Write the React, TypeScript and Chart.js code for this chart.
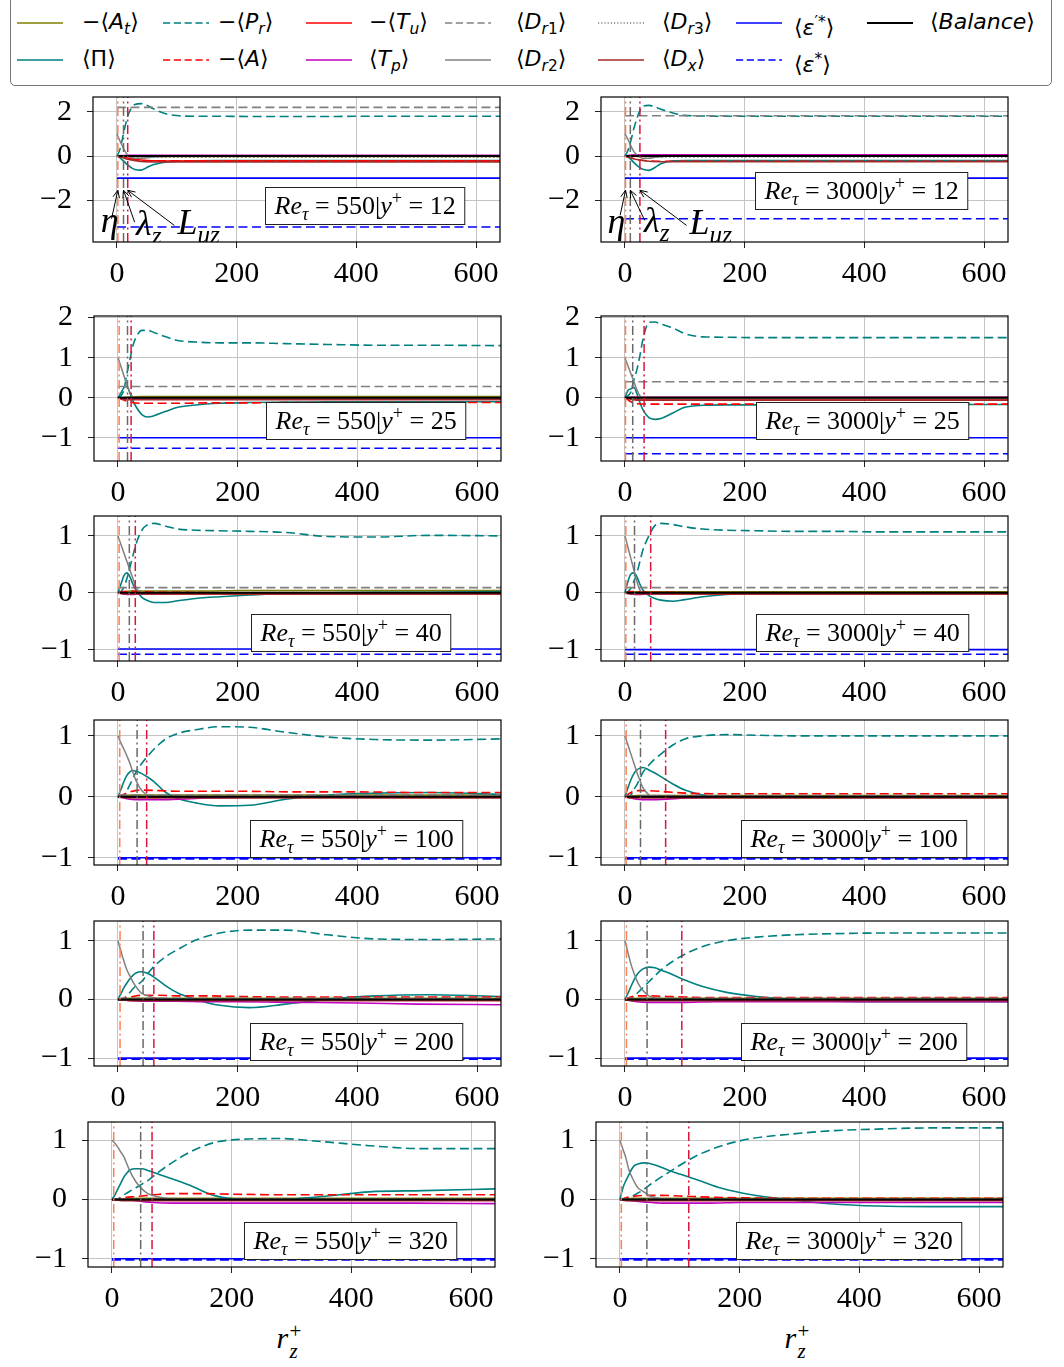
import React, { useEffect, useRef } from "react";
import { Chart, registerables } from "chart.js";
Chart.register(...registerables);

const SERIF = "'Liberation Serif', 'Times New Roman', serif";
const SANS = "'DejaVu Sans', sans-serif";

// ---------------- grids & ticks ----------------
const X = [0, 5, 10, 15, 20, 25, 30, 40, 50, 60, 80, 100, 130, 170, 220, 280, 350, 430, 520, 640];
const XS = [0, 10, 20, 40, 70, 100, 150, 200, 300, 400, 500, 640];
const X_TICKS = [0, 200, 400, 600];
const RE_TAU = [550, 3000];
const Y_PLUS = [12, 25, 40, 100, 200, 320];
const Y_TICKS = [[-2, 0, 2], [-1, 0, 1, 2], [-1, 0, 1], [-1, 0, 1], [-1, 0, 1], [-1, 0, 1]];
const Y_MIN = [-3.89, -1.58, -1.2, -1.12, -1.134, -1.14];
const Y_MAX = [2.67, 2.04, 1.35, 1.26, 1.335, 1.31];
const X_MIN = -40;
const X_MAX = 640;

// ---------------- Re=550, y+=12 ----------------
const PR_550_12 = [0, 0.3, 0.9, 1.5, 1.95, 2.2, 2.33, 2.37, 2.3, 2.15, 1.92, 1.83, 1.8, 1.8, 1.79, 1.79, 1.79, 1.8, 1.8, 1.8];
const PI_550_12 = [0, -0.08, -0.2, -0.33, -0.45, -0.55, -0.61, -0.64, -0.52, -0.4, -0.28, -0.24, -0.22, -0.21, -0.21, -0.21, -0.21, -0.21, -0.21, -0.21];
const DR2_550_12 = [1.0, 0.68, 0.4, 0.15, 0.0, -0.08, -0.1, -0.1, -0.08, -0.05, -0.02, 0, 0, 0, 0, 0, 0, 0, 0, 0];
const A_550_12 = [0, -0.06, -0.13, -0.2, -0.22, -0.22, -0.22, -0.22, -0.22, -0.22, -0.22, -0.22];
const TU_550_12 = [0, -0.04, -0.1, -0.18, -0.22, -0.23, -0.23, -0.23, -0.23, -0.23, -0.23, -0.23];
const TP_550_12 = [0, 0.02, 0.03, 0.03, 0.03, 0.03, 0.03, 0.03, 0.03, 0.03, 0.03, 0.03];
const DX_550_12 = [0, -0.08, -0.16, -0.25, -0.27, -0.27, -0.27, -0.27, -0.27, -0.27, -0.27, -0.27];
const AT_550_12 = [0, -0.01, -0.01, -0.02, -0.02, -0.02, -0.02, -0.02, -0.02, -0.02, -0.02, -0.02];
const DR3_550_12 = [0, -0.02, -0.04, -0.06, -0.06, -0.06, -0.06, -0.06, -0.06, -0.06, -0.06, -0.06];

// ---------------- Re=3000, y+=12 ----------------
const PR_3000_12 = [0, 0.25, 0.7, 1.25, 1.7, 2.05, 2.25, 2.29, 2.22, 2.12, 1.95, 1.84, 1.81, 1.8, 1.8, 1.8, 1.8, 1.8, 1.8, 1.8];
const PI_3000_12 = [0, -0.05, -0.15, -0.3, -0.42, -0.52, -0.6, -0.65, -0.52, -0.35, -0.22, -0.21, -0.21, -0.2, -0.2, -0.2, -0.2, -0.2, -0.2, -0.2];
const DR2_3000_12 = [1.0, 0.75, 0.45, 0.2, 0.05, -0.05, -0.1, -0.1, -0.06, -0.03, 0, 0, 0, 0, 0, 0, 0, 0, 0, 0];
const A_3000_12 = [0, -0.08, -0.16, -0.22, -0.24, -0.24, -0.24, -0.24, -0.24, -0.24, -0.24, -0.24];
const TU_3000_12 = [0, 0.01, 0.02, 0.02, 0.02, 0.02, 0.02, 0.02, 0.02, 0.02, 0.02, 0.02];
const TP_3000_12 = [0, 0.04, 0.06, 0.06, 0.06, 0.06, 0.06, 0.06, 0.06, 0.06, 0.06, 0.06];
const DX_3000_12 = [0, -0.08, -0.16, -0.24, -0.26, -0.26, -0.26, -0.26, -0.26, -0.26, -0.26, -0.26];
const AT_3000_12 = [0, -0.01, -0.01, -0.01, -0.01, -0.01, -0.01, -0.01, -0.01, -0.01, -0.01, -0.01];
const DR3_3000_12 = [0, -0.02, -0.03, -0.04, -0.04, -0.04, -0.04, -0.04, -0.04, -0.04, -0.04, -0.04];

// ---------------- Re=550, y+=25 ----------------
const PR_550_25 = [0, 0.05, 0.2, 0.6, 0.95, 1.3, 1.5, 1.68, 1.68, 1.63, 1.52, 1.43, 1.39, 1.37, 1.37, 1.35, 1.33, 1.31, 1.31, 1.3];
const PI_550_25 = [0, 0.12, 0.25, 0.28, 0.12, -0.08, -0.22, -0.42, -0.48, -0.45, -0.34, -0.24, -0.18, -0.14, -0.12, -0.11, -0.1, -0.1, -0.1, -0.1];
const DR2_550_25 = [1.0, 0.78, 0.55, 0.33, 0.13, 0.02, 0, 0, 0, 0, 0, 0, 0, 0, 0, 0, 0, 0, 0, 0];
const A_550_25 = [0, -0.06, -0.11, -0.14, -0.14, -0.14, -0.13, -0.13, -0.12, -0.12, -0.12, -0.12];
const TU_550_25 = [0, -0.01, -0.02, -0.03, -0.03, -0.03, -0.03, -0.03, -0.03, -0.03, -0.03, -0.03];
const TP_550_25 = [0, -0.04, -0.03, -0.01, 0, 0, 0, 0, 0, 0, 0, 0];
const DX_550_25 = [0, -0.03, -0.05, -0.05, -0.05, -0.05, -0.05, -0.05, -0.05, -0.05, -0.05, -0.05];
const AT_550_25 = [0, 0.01, 0.02, 0.03, 0.03, 0.03, 0.03, 0.03, 0.03, 0.03, 0.03, 0.03];
const DR3_550_25 = [0, 0, 0, 0, 0, 0, 0, 0, 0, 0, 0, 0];

// ---------------- Re=3000, y+=25 ----------------
const PR_3000_25 = [0, 0.05, 0.15, 0.45, 0.7, 1.05, 1.45, 1.88, 1.89, 1.84, 1.74, 1.6, 1.52, 1.51, 1.5, 1.5, 1.5, 1.5, 1.5, 1.5];
const PI_3000_25 = [0, 0.18, 0.22, 0.26, 0.1, -0.12, -0.3, -0.5, -0.54, -0.52, -0.38, -0.24, -0.19, -0.18, -0.18, -0.17, -0.17, -0.17, -0.17, -0.17];
const DR2_3000_25 = [1.0, 0.8, 0.6, 0.4, 0.2, 0.05, 0, 0, 0, 0, 0, 0, 0, 0, 0, 0, 0, 0, 0, 0];
const A_3000_25 = [0, -0.1, -0.15, -0.16, -0.16, -0.16, -0.16, -0.16, -0.16, -0.16, -0.16, -0.16];
const TU_3000_25 = [0, -0.03, -0.05, -0.06, -0.06, -0.06, -0.06, -0.06, -0.06, -0.06, -0.06, -0.06];
const TP_3000_25 = [0, 0.01, 0.01, 0.01, 0.01, 0.01, 0.01, 0.01, 0.01, 0.01, 0.01, 0.01];
const DX_3000_25 = [0, -0.04, -0.06, -0.06, -0.06, -0.06, -0.06, -0.06, -0.06, -0.06, -0.06, -0.06];
const AT_3000_25 = [0, 0.01, 0.01, 0.01, 0.01, 0.01, 0.01, 0.01, 0.01, 0.01, 0.01, 0.01];
const DR3_3000_25 = [0, 0, 0, 0, 0, 0, 0, 0, 0, 0, 0, 0];

// ---------------- Re=550, y+=40 ----------------
const PR_550_40 = [0, 0.02, 0.1, 0.25, 0.45, 0.65, 0.85, 1.1, 1.2, 1.22, 1.17, 1.12, 1.1, 1.09, 1.08, 1.06, 0.99, 0.98, 1.01, 1.0];
const PI_550_40 = [0, 0.15, 0.3, 0.35, 0.28, 0.15, 0.05, -0.08, -0.14, -0.17, -0.17, -0.14, -0.1, -0.07, -0.04, -0.01, 0, 0.01, 0.01, 0.02];
const DR2_550_40 = [1.0, 0.85, 0.7, 0.55, 0.4, 0.25, 0.1, 0, 0, 0, 0, 0, 0, 0, 0, 0, 0, 0, 0, 0];
const A_550_40 = [0, 0.02, 0.03, 0.02, 0.01, 0.01, 0, 0, 0, 0, 0, 0];
const TU_550_40 = [0, -0.01, -0.02, -0.02, -0.02, -0.02, -0.02, -0.02, -0.02, -0.02, -0.02, -0.02];
const TP_550_40 = [0, -0.02, -0.03, -0.02, -0.01, 0, 0, 0, 0, 0, 0, 0];
const DX_550_40 = [0, -0.02, -0.02, -0.02, -0.02, -0.02, -0.02, -0.02, -0.02, -0.02, -0.02, -0.02];
const AT_550_40 = [0, 0.02, 0.03, 0.03, 0.03, 0.03, 0.03, 0.04, 0.04, 0.04, 0.04, 0.04];
const DR3_550_40 = [0, 0, 0, 0, 0, 0, 0, 0, 0, 0, 0, 0];

// ---------------- Re=3000, y+=40 ----------------
const PR_3000_40 = [0, 0.02, 0.08, 0.2, 0.35, 0.55, 0.75, 1.0, 1.18, 1.22, 1.2, 1.16, 1.12, 1.1, 1.09, 1.08, 1.08, 1.07, 1.07, 1.07];
const PI_3000_40 = [0, 0.2, 0.33, 0.35, 0.28, 0.15, 0.05, -0.05, -0.1, -0.13, -0.15, -0.12, -0.07, -0.03, -0.01, 0, 0, 0, 0, 0];
const DR2_3000_40 = [1.0, 0.8, 0.6, 0.4, 0.2, 0.05, 0, 0, 0, 0, 0, 0, 0, 0, 0, 0, 0, 0, 0, 0];
const A_3000_40 = [0, 0.02, 0.02, 0.01, 0.01, 0, 0, 0, 0, 0, 0, 0];
const TU_3000_40 = [0, -0.01, -0.02, -0.02, -0.02, -0.02, -0.02, -0.02, -0.02, -0.02, -0.02, -0.02];
const TP_3000_40 = [0, -0.02, -0.03, -0.02, -0.01, 0, 0, 0, 0, 0, 0, 0];
const DX_3000_40 = [0, -0.02, -0.02, -0.02, -0.02, -0.02, -0.02, -0.02, -0.02, -0.02, -0.02, -0.02];
const AT_3000_40 = [0, 0.01, 0.02, 0.02, 0.02, 0.02, 0.02, 0.02, 0.02, 0.02, 0.02, 0.02];
const DR3_3000_40 = [0, 0, 0, 0, 0, 0, 0, 0, 0, 0, 0, 0];

// ---------------- Re=550, y+=100 ----------------
const PR_550_100 = [0, 0, 0.02, 0.1, 0.2, 0.3, 0.4, 0.55, 0.67, 0.78, 0.95, 1.04, 1.1, 1.15, 1.14, 1.06, 0.98, 0.94, 0.93, 0.95];
const PI_550_100 = [0, 0.12, 0.25, 0.35, 0.41, 0.43, 0.42, 0.38, 0.32, 0.25, 0.07, -0.03, -0.1, -0.15, -0.14, -0.04, 0.03, 0.06, 0.07, 0.04];
const DR2_550_100 = [1.0, 0.88, 0.78, 0.67, 0.55, 0.4, 0.27, 0.1, 0.03, 0, 0, 0, 0, 0, 0, 0, 0, 0, 0, 0];
const A_550_100 = [0, 0.04, 0.08, 0.11, 0.1, 0.09, 0.09, 0.09, 0.08, 0.08, 0.07, 0.07];
const TU_550_100 = [0, -0.01, -0.01, -0.01, -0.01, -0.01, -0.01, -0.01, -0.01, -0.01, -0.01, -0.01];
const TP_550_100 = [0, -0.02, -0.04, -0.05, -0.05, -0.04, -0.02, -0.01, 0, 0, 0, 0];
const DX_550_100 = [0, -0.01, -0.02, -0.02, -0.02, -0.02, -0.02, -0.02, -0.02, -0.02, -0.02, -0.02];
const AT_550_100 = [0, 0.02, 0.03, 0.03, 0.03, 0.03, 0.03, 0.03, 0.03, 0.03, 0.03, 0.03];
const DR3_550_100 = [0, 0.01, 0.01, 0.01, 0.01, 0.01, 0.01, 0.01, 0.01, 0.01, 0.01, 0.01];

// ---------------- Re=3000, y+=100 ----------------
const PR_3000_100 = [0, 0, 0.03, 0.12, 0.2, 0.3, 0.4, 0.52, 0.62, 0.7, 0.85, 0.95, 1.0, 1.02, 1.01, 1.0, 1.0, 1.0, 1.0, 1.0];
const PI_3000_100 = [0, 0.15, 0.28, 0.38, 0.44, 0.47, 0.48, 0.44, 0.39, 0.33, 0.21, 0.11, 0.03, 0, -0.01, -0.01, -0.01, -0.01, -0.01, -0.01];
const DR2_3000_100 = [1.0, 0.85, 0.7, 0.55, 0.4, 0.27, 0.15, 0.03, 0, 0, 0, 0, 0, 0, 0, 0, 0, 0, 0, 0];
const A_3000_100 = [0, 0.07, 0.1, 0.1, 0.08, 0.06, 0.05, 0.05, 0.05, 0.05, 0.05, 0.05];
const TU_3000_100 = [0, -0.01, -0.01, -0.01, -0.01, -0.01, -0.01, -0.01, -0.01, -0.01, -0.01, -0.01];
const TP_3000_100 = [0, -0.02, -0.04, -0.05, -0.04, -0.02, -0.01, 0, 0, 0, 0, 0];
const DX_3000_100 = [0, -0.02, -0.02, -0.02, -0.02, -0.02, -0.02, -0.02, -0.02, -0.02, -0.02, -0.02];
const AT_3000_100 = [0, 0.01, 0.02, 0.02, 0.02, 0.02, 0.02, 0.02, 0.02, 0.02, 0.02, 0.02];
const DR3_3000_100 = [0, 0, 0, 0, 0, 0, 0, 0, 0, 0, 0, 0];

// ---------------- Re=550, y+=200 ----------------
const PR_550_200 = [0, 0, 0.02, 0.06, 0.12, 0.18, 0.23, 0.31, 0.44, 0.56, 0.73, 0.85, 1.01, 1.13, 1.18, 1.18, 1.1, 1.03, 1.02, 1.03];
const PI_550_200 = [0, 0.1, 0.2, 0.28, 0.35, 0.41, 0.45, 0.47, 0.44, 0.38, 0.23, 0.11, 0, -0.1, -0.14, -0.08, 0, 0.06, 0.08, 0.05];
const DR2_550_200 = [1.0, 0.82, 0.65, 0.5, 0.4, 0.3, 0.22, 0.1, 0.06, 0.03, 0.01, 0, 0, 0, 0, 0, 0, 0, 0, 0];
const A_550_200 = [0, 0.02, 0.04, 0.07, 0.07, 0.06, 0.06, 0.05, 0.04, 0.04, 0.04, 0.04];
const TU_550_200 = [0, -0.01, -0.01, -0.01, -0.01, -0.01, -0.01, -0.01, -0.01, -0.01, -0.01, -0.01];
const TP_550_200 = [0, -0.01, -0.02, -0.03, -0.03, -0.03, -0.04, -0.04, -0.05, -0.06, -0.08, -0.09];
const DX_550_200 = [0, -0.01, -0.02, -0.02, -0.02, -0.02, -0.02, -0.02, -0.02, -0.02, -0.02, -0.02];
const AT_550_200 = [0, 0.01, 0.02, 0.02, 0.02, 0.02, 0.02, 0.02, 0.02, 0.02, 0.02, 0.02];
const DR3_550_200 = [0, 0, 0, 0, 0, 0, 0, 0, 0, 0, 0, 0];

// ---------------- Re=3000, y+=200 ----------------
const PR_3000_200 = [0, 0, 0.02, 0.05, 0.1, 0.15, 0.2, 0.3, 0.4, 0.5, 0.65, 0.77, 0.9, 1.0, 1.06, 1.1, 1.12, 1.13, 1.13, 1.13];
const PI_3000_200 = [0, 0.1, 0.22, 0.33, 0.42, 0.48, 0.52, 0.55, 0.54, 0.5, 0.42, 0.33, 0.22, 0.12, 0.05, 0, -0.03, -0.04, -0.04, -0.04];
const DR2_3000_200 = [1.0, 0.8, 0.6, 0.45, 0.32, 0.22, 0.15, 0.06, 0.02, 0, 0, 0, 0, 0, 0, 0, 0, 0, 0, 0];
const A_3000_200 = [0, 0.04, 0.06, 0.06, 0.05, 0.04, 0.03, 0.03, 0.03, 0.03, 0.03, 0.03];
const TU_3000_200 = [0, -0.01, -0.01, -0.01, -0.01, -0.01, -0.01, -0.01, -0.01, -0.01, -0.01, -0.01];
const TP_3000_200 = [0, -0.02, -0.04, -0.05, -0.05, -0.05, -0.04, -0.04, -0.04, -0.04, -0.04, -0.04];
const DX_3000_200 = [0, -0.02, -0.02, -0.02, -0.02, -0.02, -0.02, -0.02, -0.02, -0.02, -0.02, -0.02];
const AT_3000_200 = [0, 0.01, 0.02, 0.02, 0.02, 0.02, 0.02, 0.02, 0.02, 0.02, 0.02, 0.02];
const DR3_3000_200 = [0, 0, 0, 0, 0, 0, 0, 0, 0, 0, 0, 0];

// ---------------- Re=550, y+=320 ----------------
const PR_550_320 = [0, 0, 0.01, 0.04, 0.08, 0.11, 0.14, 0.2, 0.26, 0.32, 0.48, 0.62, 0.8, 0.96, 1.02, 1.03, 0.98, 0.91, 0.86, 0.86];
const PI_550_320 = [0, 0.08, 0.18, 0.28, 0.38, 0.45, 0.5, 0.52, 0.52, 0.49, 0.42, 0.35, 0.24, 0.07, 0, 0, 0.05, 0.13, 0.15, 0.18];
const DR2_550_320 = [1.0, 0.95, 0.88, 0.8, 0.72, 0.6, 0.48, 0.3, 0.18, 0.1, 0.04, 0.01, 0, 0, 0, 0, 0, 0, 0, 0];
const A_550_320 = [0, 0.01, 0.03, 0.05, 0.08, 0.1, 0.1, 0.09, 0.08, 0.08, 0.08, 0.08];
const TU_550_320 = [0, -0.01, -0.01, -0.01, -0.01, -0.01, -0.01, -0.01, -0.01, -0.01, -0.01, -0.01];
const TP_550_320 = [0, 0, 0, -0.02, -0.05, -0.06, -0.06, -0.06, -0.06, -0.06, -0.06, -0.07];
const DX_550_320 = [0, -0.01, -0.02, -0.02, -0.02, -0.02, -0.02, -0.02, -0.02, -0.02, -0.02, -0.02];
const AT_550_320 = [0, 0.01, 0.01, 0.02, 0.02, 0.02, 0.02, 0.02, 0.02, 0.02, 0.02, 0.02];
const DR3_550_320 = [0, 0, 0, 0, 0, 0, 0, 0, 0, 0, 0, 0];

// ---------------- Re=3000, y+=320 ----------------
const PR_3000_320 = [0, 0, 0.01, 0.03, 0.05, 0.08, 0.11, 0.17, 0.25, 0.32, 0.45, 0.58, 0.75, 0.91, 1.03, 1.1, 1.16, 1.19, 1.21, 1.21];
const PI_3000_320 = [0, 0.2, 0.32, 0.42, 0.52, 0.58, 0.6, 0.62, 0.61, 0.58, 0.5, 0.43, 0.33, 0.19, 0.08, 0, -0.07, -0.11, -0.12, -0.12];
const DR2_3000_320 = [1.0, 0.85, 0.7, 0.5, 0.38, 0.28, 0.2, 0.13, 0.06, 0.03, 0, 0, 0, 0, 0, 0, 0, 0, 0, 0];
const A_3000_320 = [0, 0.03, 0.05, 0.07, 0.07, 0.06, 0.04, 0.03, 0.02, 0.02, 0.02, 0.02];
const TU_3000_320 = [0, -0.01, -0.01, -0.01, -0.01, -0.01, -0.01, -0.01, -0.01, -0.01, -0.01, -0.01];
const TP_3000_320 = [0, -0.01, -0.02, -0.04, -0.06, -0.06, -0.06, -0.05, -0.05, -0.05, -0.05, -0.05];
const DX_3000_320 = [0, -0.02, -0.02, -0.02, -0.02, -0.02, -0.02, -0.02, -0.02, -0.02, -0.02, -0.02];
const AT_3000_320 = [0, 0.01, 0.02, 0.02, 0.02, 0.02, 0.02, 0.02, 0.02, 0.02, 0.02, 0.02];
const DR3_3000_320 = [0, 0, 0, 0, 0, 0, 0, 0, 0, 0, 0, 0];

// ---------------- constant-level terms (panel order: 550/3000 per row) ----------------
const DR1_LEVEL = [2.2, 1.82, 0.28, 0.4, 0.09, 0.09, 0.03, 0.02, 0.02, 0.02, 0.01, 0.01];
const EPSP_LEVEL = [-1, -1, -1, -1, -0.99, -1, -1, -1, -1, -1, -1, -1];
const EPS_LEVEL = [-3.21, -2.84, -1.26, -1.4, -1.08, -1.08, -1.02, -1.02, -1.02, -1.02, -1.02, -1.02];
const BAL_LEVEL = [0, 0, 0, 0, 0, 0, 0, 0, 0, 0, 0, 0];

// length scales (vertical markers)
const ETA_R = [1.5, 1, 2, 1, 2, 1.5, 3, 2, 3.5, 2.5, 3, 2.3];
const LAMBDA_R = [11, 9, 16, 13, 19, 16, 32, 26, 42, 37, 48, 45];
const LUZ_R = [18, 25, 22, 32, 29, 43, 48, 68, 60, 95, 67, 115];

const PANEL_DATA = [
  { pi: PI_550_12, pr: PR_550_12, dr2: DR2_550_12, a: A_550_12, tu: TU_550_12, tp: TP_550_12, dx: DX_550_12, at: AT_550_12, dr3: DR3_550_12 },
  { pi: PI_3000_12, pr: PR_3000_12, dr2: DR2_3000_12, a: A_3000_12, tu: TU_3000_12, tp: TP_3000_12, dx: DX_3000_12, at: AT_3000_12, dr3: DR3_3000_12 },
  { pi: PI_550_25, pr: PR_550_25, dr2: DR2_550_25, a: A_550_25, tu: TU_550_25, tp: TP_550_25, dx: DX_550_25, at: AT_550_25, dr3: DR3_550_25 },
  { pi: PI_3000_25, pr: PR_3000_25, dr2: DR2_3000_25, a: A_3000_25, tu: TU_3000_25, tp: TP_3000_25, dx: DX_3000_25, at: AT_3000_25, dr3: DR3_3000_25 },
  { pi: PI_550_40, pr: PR_550_40, dr2: DR2_550_40, a: A_550_40, tu: TU_550_40, tp: TP_550_40, dx: DX_550_40, at: AT_550_40, dr3: DR3_550_40 },
  { pi: PI_3000_40, pr: PR_3000_40, dr2: DR2_3000_40, a: A_3000_40, tu: TU_3000_40, tp: TP_3000_40, dx: DX_3000_40, at: AT_3000_40, dr3: DR3_3000_40 },
  { pi: PI_550_100, pr: PR_550_100, dr2: DR2_550_100, a: A_550_100, tu: TU_550_100, tp: TP_550_100, dx: DX_550_100, at: AT_550_100, dr3: DR3_550_100 },
  { pi: PI_3000_100, pr: PR_3000_100, dr2: DR2_3000_100, a: A_3000_100, tu: TU_3000_100, tp: TP_3000_100, dx: DX_3000_100, at: AT_3000_100, dr3: DR3_3000_100 },
  { pi: PI_550_200, pr: PR_550_200, dr2: DR2_550_200, a: A_550_200, tu: TU_550_200, tp: TP_550_200, dx: DX_550_200, at: AT_550_200, dr3: DR3_550_200 },
  { pi: PI_3000_200, pr: PR_3000_200, dr2: DR2_3000_200, a: A_3000_200, tu: TU_3000_200, tp: TP_3000_200, dx: DX_3000_200, at: AT_3000_200, dr3: DR3_3000_200 },
  { pi: PI_550_320, pr: PR_550_320, dr2: DR2_550_320, a: A_550_320, tu: TU_550_320, tp: TP_550_320, dx: DX_550_320, at: AT_550_320, dr3: DR3_550_320 },
  { pi: PI_3000_320, pr: PR_3000_320, dr2: DR2_3000_320, a: A_3000_320, tu: TU_3000_320, tp: TP_3000_320, dx: DX_3000_320, at: AT_3000_320, dr3: DR3_3000_320 },
];

// ---------------- styles & layout ----------------
const DASH = [9, 4.5];
const DASHDOT = [9, 3.5, 2, 3.5];
const DOT = [1.5, 2.5];
const STYLE: Record<string, { color: string; dash: number[]; w: number }> = {
  at: { color: "#808000", dash: [], w: 1.5 },
  pi: { color: "#008080", dash: [], w: 1.6 },
  pr: { color: "#008080", dash: DASH, w: 1.6 },
  a: { color: "#ff0000", dash: DASH, w: 1.6 },
  tu: { color: "#ff0000", dash: [], w: 1.5 },
  tp: { color: "#c000c0", dash: [], w: 1.6 },
  dr1: { color: "#808080", dash: DASH, w: 1.6 },
  dr2: { color: "#808080", dash: [], w: 1.5 },
  dr3: { color: "#808080", dash: DOT, w: 1.5 },
  dx: { color: "#a52a2a", dash: [], w: 1.6 },
  epsp: { color: "#0000ff", dash: [], w: 1.6 },
  eps: { color: "#0000ff", dash: DASH, w: 1.6 },
  bal: { color: "#000000", dash: [], w: 2 },
  eta: { color: "#ff7f50", dash: DASHDOT, w: 1.5 },
  lam: { color: "#696969", dash: DASHDOT, w: 1.5 },
  luz: { color: "#dc143c", dash: DASHDOT, w: 1.5 },
};

const ROW_TOP = [97, 316, 516, 720, 921, 1122];
const COL_LEFT = [[93, 601], [94, 601], [94, 601], [94, 601], [94, 601], [88, 596]];
const PLOT_W = 407;
const PLOT_H = 145;
const PAD_L = 10, PAD_T = 12, PAD_R = 10, PAD_B = 12;
const AXIS_W = 80, AXIS_H = 40;
const CANVAS_W = PAD_L + AXIS_W + PLOT_W + PAD_R;
const CANVAS_H = PAD_T + PLOT_H + AXIS_H + PAD_B;

// text-box centre (data coordinates) per panel
const BOX_POS = [[413, -2.26], [395, -1.54], [413, -0.56], [397, -0.56], [388, -0.69], [397, -0.69], [398, -0.69], [382, -0.69], [398, -0.71], [382, -0.71], [398, -0.7], [382, -0.7]];

// arrow annotations in the first row (data coordinates)
const ANNOT_TEXT = [[[-27, -3.44], [32, -3.57], [101, -3.53]], [[-29, -3.48], [32, -3.44], [108, -3.53]]];
const ANNOT_TAIL = [[[-9, -2.84], [29.5, -2.99], [96, -3.14]], [[-8, -2.68], [33, -2.91], [103, -3.14]]];
const ANNOT_TIP_Y = -1.55;

type Run = { t: string; it?: boolean; sub?: boolean; sup?: boolean };

function drawRuns(ctx: CanvasRenderingContext2D, runs: Run[], x: number, y: number, size: number, draw: boolean) {
  let cx = x;
  for (const r of runs) {
    const s = r.sub || r.sup ? size * 0.7 : size;
    ctx.font = `${r.it ? "italic " : ""}${s}px ${SERIF}`;
    const dy = r.sub ? size * 0.24 : r.sup ? -size * 0.4 : 0;
    if (draw) ctx.fillText(r.t, cx, y + dy);
    cx += ctx.measureText(r.t).width;
  }
  return cx - x;
}

function arrow(ctx: CanvasRenderingContext2D, x0: number, y0: number, x1: number, y1: number) {
  ctx.beginPath();
  ctx.moveTo(x0, y0);
  ctx.lineTo(x1, y1);
  ctx.stroke();
  const ang = Math.atan2(y1 - y0, x1 - x0);
  const L = 8, A = 0.42;
  ctx.beginPath();
  ctx.moveTo(x1 - L * Math.cos(ang - A), y1 - L * Math.sin(ang - A));
  ctx.lineTo(x1, y1);
  ctx.lineTo(x1 - L * Math.cos(ang + A), y1 - L * Math.sin(ang + A));
  ctx.stroke();
}

function makeDecor(p: number) {
  const row = Math.floor(p / 2), col = p % 2;
  return {
    id: "decor" + p,
    afterDatasetsDraw(chart: any) {
      const { ctx, chartArea: ca, scales } = chart;
      const xs = scales.x, ys = scales.y;
      ctx.save();
      ctx.textBaseline = "alphabetic";
      ctx.fillStyle = "#000";
      ctx.strokeStyle = "#000";
      if (row === 0) {
        ctx.save();
        ctx.beginPath();
        ctx.rect(ca.left, ca.top, ca.right - ca.left, ca.bottom - ca.top);
        ctx.clip();
        const labels: Run[][] = [
          [{ t: "η", it: true }],
          [{ t: "λ", it: true }, { t: "z", it: true, sub: true }],
          [{ t: "L", it: true }, { t: "uz", it: true, sub: true }],
        ];
        const tips = [ETA_R[p], LAMBDA_R[p], LUZ_R[p]];
        ctx.lineWidth = 1;
        for (let k = 0; k < 3; k++) {
          const [tx, ty] = ANNOT_TEXT[col][k];
          const [ax, ay] = ANNOT_TAIL[col][k];
          arrow(ctx, xs.getPixelForValue(ax), ys.getPixelForValue(ay), xs.getPixelForValue(tips[k]), ys.getPixelForValue(ANNOT_TIP_Y));
          drawRuns(ctx, labels[k], xs.getPixelForValue(tx), ys.getPixelForValue(ty), 36, true);
        }
        ctx.restore();
      }
      // text box
      const runs: Run[] = [
        { t: "Re", it: true }, { t: "τ", it: true, sub: true }, { t: " = " + RE_TAU[col] + "|" },
        { t: "y", it: true }, { t: "+", sup: true }, { t: " = " + Y_PLUS[row] },
      ];
      const size = 26;
      const w = drawRuns(ctx, runs, 0, 0, size, false);
      const bw = w + 18, bh = 37;
      const cx = xs.getPixelForValue(BOX_POS[p][0]);
      const cy = ys.getPixelForValue(BOX_POS[p][1]);
      const bx = Math.round(cx - bw / 2) + 0.5, by = Math.round(cy - bh / 2) + 0.5;
      ctx.fillStyle = "#fff";
      ctx.fillRect(bx, by, bw, bh);
      ctx.lineWidth = 1;
      ctx.strokeStyle = "#222";
      ctx.strokeRect(bx, by, bw, bh);
      ctx.fillStyle = "#000";
      drawRuns(ctx, runs, bx + 9, by + bh / 2 + 8, size, true);
      // frame
      ctx.lineWidth = 1.2;
      ctx.strokeStyle = "#000";
      ctx.strokeRect(ca.left, ca.top, ca.right - ca.left, ca.bottom - ca.top);
      ctx.restore();
    },
  };
}

const fmt = (v: number) => String(v).replace("-", "\u2212");

function Panel({ p }: { p: number }) {
  const ref = useRef<HTMLCanvasElement | null>(null);
  const row = Math.floor(p / 2), col = p % 2;
  const left = COL_LEFT[row][col] - PAD_L - AXIS_W;
  const top = ROW_TOP[row] - PAD_T;
  useEffect(() => {
    const d = PANEL_DATA[p];
    const yMin = Y_MIN[row], yMax = Y_MAX[row];
    const grid = (xs: number[], ys: number[]) => xs.map((x, i) => ({ x, y: ys[i] }));
    const flat = (v: number) => [{ x: X[0], y: v }, { x: X[X.length - 1], y: v }];
    const vline = (v: number) => [{ x: v, y: yMin }, { x: v, y: yMax }];
    const series: [string, { x: number; y: number }[]][] = [
      ["at", grid(XS, d.at)],
      ["pi", grid(X, d.pi)],
      ["pr", grid(X, d.pr)],
      ["a", grid(XS, d.a)],
      ["tu", grid(XS, d.tu)],
      ["tp", grid(XS, d.tp)],
      ["dr1", flat(DR1_LEVEL[p])],
      ["dr2", grid(X, d.dr2)],
      ["dr3", grid(XS, d.dr3)],
      ["dx", grid(XS, d.dx)],
      ["epsp", flat(EPSP_LEVEL[p])],
      ["eps", flat(EPS_LEVEL[p])],
      ["bal", flat(BAL_LEVEL[p])],
      ["eta", vline(ETA_R[p])],
      ["lam", vline(LAMBDA_R[p])],
      ["luz", vline(LUZ_R[p])],
    ];
    const n = series.length;
    const datasets = series.map(([k, data], i) => {
      const isV = k === "eta" || k === "lam" || k === "luz";
      return {
        label: k,
        data,
        borderColor: STYLE[k].color,
        borderDash: STYLE[k].dash,
        borderWidth: STYLE[k].w,
        pointRadius: 0,
        fill: false,
        tension: 0,
        cubicInterpolationMode: isV ? "default" : "monotone",
        order: n - i,
      };
    });
    const tickFont = { family: SERIF, size: 30 };
    const chart = new Chart(ref.current as HTMLCanvasElement, {
      type: "line",
      data: { datasets } as any,
      options: {
        responsive: false,
        animation: false,
        devicePixelRatio: 1,
        layout: { padding: { left: PAD_L, top: PAD_T, right: PAD_R, bottom: PAD_B } },
        plugins: { legend: { display: false }, tooltip: { enabled: false } },
        scales: {
          x: {
            type: "linear",
            min: X_MIN,
            max: X_MAX,
            afterBuildTicks: (s: any) => { s.ticks = X_TICKS.map((v) => ({ value: v })); },
            afterFit: (s: any) => { s.height = AXIS_H; s.paddingLeft = 0; s.paddingRight = 0; s.paddingTop = 0; s.paddingBottom = 0; },
            ticks: { font: tickFont, color: "#000", padding: 8, autoSkip: false, maxRotation: 0, callback: (v: any) => fmt(v) },
            grid: { color: "#c4c4c4", lineWidth: 1, tickLength: 6, tickColor: "#222", tickWidth: 1 },
            border: { display: false },
          },
          y: {
            type: "linear",
            min: yMin,
            max: yMax,
            afterBuildTicks: (s: any) => { s.ticks = Y_TICKS[row].map((v) => ({ value: v })); },
            afterFit: (s: any) => { s.width = AXIS_W; s.paddingLeft = 0; s.paddingRight = 0; s.paddingTop = 0; s.paddingBottom = 0; },
            ticks: { font: tickFont, color: "#000", padding: 15, autoSkip: false, callback: (v: any) => fmt(v) },
            grid: { color: "#c4c4c4", lineWidth: 1, tickLength: 6, tickColor: "#222", tickWidth: 1 },
            border: { display: false },
          },
        },
      } as any,
      plugins: [makeDecor(p)],
    });
    return () => chart.destroy();
  }, [p]);
  return (
    <canvas
      ref={ref}
      width={CANVAS_W}
      height={CANVAS_H}
      style={{ position: "absolute", left, top, width: CANVAS_W, height: CANVAS_H }}
    />
  );
}

// ---------------- legend (HTML) ----------------
const Sub = ({ children }: any) => <span style={{ fontSize: "0.7em", verticalAlign: "-0.3em" }}>{children}</span>;
const Sup = ({ children }: any) => <span style={{ fontSize: "0.7em", verticalAlign: "0.55em" }}>{children}</span>;

const LEGEND_COLS = [["at", "pi"], ["pr", "a"], ["tu", "tp"], ["dr1", "dr2"], ["dr3", "dx"], ["epsp", "eps"], ["bal"]];
const LEGEND_LINE_X = [17, 163, 306, 445, 598, 736, 867];
const LEGEND_TEXT_X = [82, 218, 369, 516, 662, 794, 930];
const LEGEND_ROW_Y = [23, 60];
const LEGEND_LABEL: Record<string, any> = {
  at: <>−⟨<i>A</i><Sub><i>t</i></Sub>⟩</>,
  pi: <>⟨Π⟩</>,
  pr: <>−⟨<i>P</i><Sub><i>r</i></Sub>⟩</>,
  a: <>−⟨<i>A</i>⟩</>,
  tu: <>−⟨<i>T</i><Sub><i>u</i></Sub>⟩</>,
  tp: <>⟨<i>T</i><Sub><i>p</i></Sub>⟩</>,
  dr1: <>⟨<i>D</i><Sub><i>r</i>1</Sub>⟩</>,
  dr2: <>⟨<i>D</i><Sub><i>r</i>2</Sub>⟩</>,
  dr3: <>⟨<i>D</i><Sub><i>r</i>3</Sub>⟩</>,
  dx: <>⟨<i>D</i><Sub><i>x</i></Sub>⟩</>,
  epsp: <>⟨<i>ε</i><Sup>′*</Sup>⟩</>,
  eps: <>⟨<i>ε</i><Sup>*</Sup>⟩</>,
  bal: <>⟨<i>Balance</i>⟩</>,
};

function Legend() {
  const items: any[] = [];
  LEGEND_COLS.forEach((keys, c) => {
    keys.forEach((k, r) => {
      const st = STYLE[k];
      const y = LEGEND_ROW_Y[r];
      items.push(
        <svg key={k + "l"} width={46} height={8} style={{ position: "absolute", left: LEGEND_LINE_X[c], top: y - 4 }}>
          <line x1={0} y1={4} x2={46} y2={4} stroke={st.color} strokeWidth={st.w} strokeDasharray={st.dash.length ? st.dash.map((v) => v * 0.8).join(" ") : undefined} />
        </svg>
      );
      items.push(
        <div key={k + "t"} style={{ position: "absolute", left: LEGEND_TEXT_X[c], top: y - 15, fontFamily: SANS, fontSize: 22, lineHeight: "28px", whiteSpace: "nowrap", color: "#000" }}>
          {LEGEND_LABEL[k]}
        </div>
      );
    });
  });
  return (
    <div style={{ position: "absolute", left: 10, top: -4, width: 1042, height: 90, border: "1px solid #777", borderRadius: 5, background: "#fff", boxSizing: "border-box" }}>
      <div style={{ position: "absolute", left: -11, top: 3 }}>{items}</div>
    </div>
  );
}

function AxisTitle({ cx }: { cx: number }) {
  return (
    <div style={{ position: "absolute", left: cx - 15, top: 1323, fontFamily: SERIF, color: "#000" }}>
      <span style={{ position: "absolute", left: 0, top: 0, fontSize: 30, fontStyle: "italic", lineHeight: "30px" }}>r</span>
      <span style={{ position: "absolute", left: 13, top: -2, fontSize: 21, lineHeight: "21px" }}>+</span>
      <span style={{ position: "absolute", left: 13, top: 18, fontSize: 21, fontStyle: "italic", lineHeight: "21px" }}>z</span>
    </div>
  );
}

export default function App() {
  return (
    <div style={{ position: "absolute", left: 0, top: 0, width: 1064, height: 1367, background: "#fff", overflow: "hidden" }}>
      <Legend />
      {PANEL_DATA.map((_, p) => (
        <Panel key={p} p={p} />
      ))}
      <AxisTitle cx={COL_LEFT[5][0] + PLOT_W / 2} />
      <AxisTitle cx={COL_LEFT[5][1] + PLOT_W / 2} />
    </div>
  );
}
